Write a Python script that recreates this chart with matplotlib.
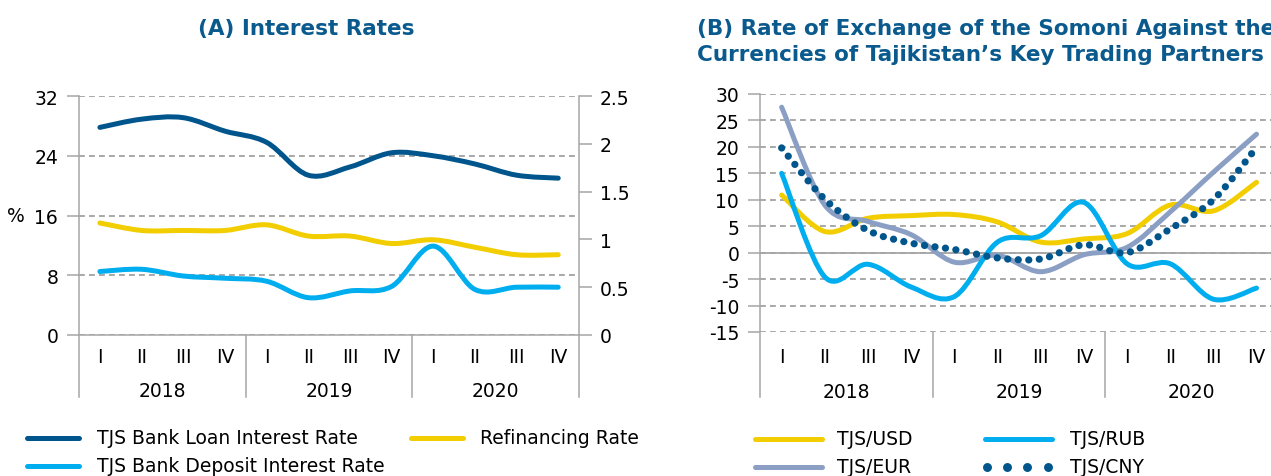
import numpy as np
import matplotlib
matplotlib.use("Agg")
import matplotlib.pyplot as plt
from matplotlib.path import Path
from matplotlib.patches import PathPatch
from matplotlib.lines import Line2D
from matplotlib.transforms import blended_transform_factory

# quarterly data, 2018 Q1 .. 2020 Q4
quarters = ["I", "II", "III", "IV"] * 3
years = ["2018", "2019", "2020"]

loan_rate = [27.8, 28.9, 29.1, 27.3, 25.8, 21.4, 22.5, 24.4, 24.0, 22.9, 21.4, 21.0]
refinancing_rate = [15.0, 14.0, 14.0, 14.0, 14.75, 13.25, 13.25, 12.25, 12.75, 11.75, 10.75, 10.75]
deposit_rate = [8.5, 8.8, 7.9, 7.6, 7.2, 5.0, 5.9, 6.5, 11.9, 6.1, 6.4, 6.4]

tjs_usd = [10.9, 4.0, 6.5, 7.0, 7.2, 5.8, 2.0, 2.6, 3.6, 9.0, 7.9, 13.3]
tjs_rub = [15.0, -4.6, -2.2, -6.5, -8.3, 2.0, 3.2, 9.5, -2.1, -2.1, -8.8, -6.7]
tjs_eur = [27.5, 9.0, 5.9, 3.4, -1.8, -0.5, -3.6, -0.4, 1.0, 7.7, 15.2, 22.4]
tjs_cny = [19.8, 10.1, 4.2, 1.8, 0.6, -1.0, -1.2, 1.5, 0.0, 4.5, 10.0, 19.9]

DARK_BLUE = "#00558c"
LIGHT_BLUE = "#00aeef"
YELLOW = "#f2cd00"
GREY_BLUE = "#8a9fc3"
TITLE_BLUE = "#0b5a8e"
AXIS_GREY = "#a6a6a6"
GRID_GREY = "#999999"

plt.rcParams["font.family"] = ["DejaVu Sans"]
plt.rcParams["font.size"] = 13.5
plt.rcParams["axes.unicode_minus"] = False

W, H = 1271, 477
fig = plt.figure(figsize=(W / 100, H / 100), dpi=100)


def px(x, y):
    """pixel position -> figure fraction"""
    return x / W, 1 - y / H


def smooth_path(ys):
    # smoothed line through the points (bezier segments, like office charts)
    pts = np.column_stack([np.arange(len(ys)), ys]).astype(float)
    n = len(pts)
    verts = [pts[0]]
    codes = [Path.MOVETO]
    for i in range(n - 1):
        p0 = pts[max(i - 1, 0)]
        p1 = pts[i]
        p2 = pts[i + 1]
        p3 = pts[min(i + 2, n - 1)]
        verts += [p1 + (p2 - p0) / 6, p2 - (p3 - p1) / 6, p2]
        codes += [Path.CURVE4] * 3
    return Path(verts, codes)


def draw_series(ax, ys, color, dotted=False):
    if dotted:
        patch = PathPatch(smooth_path(ys), fill=False, edgecolor=color, lw=5.2,
                          linestyle=(0, (0.01, 1.45)), capstyle="round", zorder=3)
    else:
        patch = PathPatch(smooth_path(ys), fill=False, edgecolor=color, lw=3.6,
                          capstyle="round", joinstyle="round", zorder=3)
    ax.add_patch(patch)


def category_axis(ax, drop, q_pos, y_pos):
    trans = blended_transform_factory(ax.transData, ax.transAxes)
    for i, q in enumerate(quarters):
        ax.text(i, q_pos, q, transform=trans, ha="center", va="center")
    for k, yr in enumerate(years):
        ax.text(4 * k + 1.5, y_pos, yr, transform=trans, ha="center", va="center")
    for xs in (3.5, 7.5):
        ax.plot([xs, xs], [0, drop], transform=trans, color=AXIS_GREY, lw=1.1,
                clip_on=False)
    ax.plot([-0.5, -0.5], [1, drop], transform=trans, color=AXIS_GREY, lw=1.1,
            clip_on=False)


def style_axes(ax):
    ax.set_xlim(-0.5, 11.5)
    ax.set_xticks([])
    for side in ("top", "left", "right"):
        ax.spines[side].set_visible(False)
    ax.tick_params(axis="y", direction="out", length=9, width=1.1,
                   color=AXIS_GREY, pad=6)
    ax.grid(axis="y", color=GRID_GREY, lw=1.2, linestyle=(0, (3.5, 2.5)))
    ax.set_axisbelow(True)


# ---- (A) Interest Rates ----
ax1 = fig.add_axes([0.0622, 0.2956, 0.3934, 0.5010])
style_axes(ax1)
ax1.set_ylim(0, 32)
ax1.set_yticks(np.arange(0, 33, 8))
ax1.spines["bottom"].set_color(AXIS_GREY)
ax1.spines["bottom"].set_linewidth(1.1)
category_axis(ax1, -0.259, -0.088, -0.232)
trans1 = blended_transform_factory(ax1.transData, ax1.transAxes)
ax1.plot([11.5, 11.5], [1, -0.259], transform=trans1, color=AXIS_GREY, lw=1.1,
         clip_on=False)

ax1r = ax1.twinx()
ax1r.set_ylim(0, 2.5)
ax1r.set_yticks(np.arange(0, 2.51, 0.5))
ax1r.set_yticklabels([f"{v:g}" for v in np.arange(0, 2.51, 0.5)])
for side in ("top", "left", "right", "bottom"):
    ax1r.spines[side].set_visible(False)
ax1r.tick_params(axis="y", direction="out", length=9, width=1.1,
                 color=AXIS_GREY, pad=6)

draw_series(ax1, loan_rate, DARK_BLUE)
draw_series(ax1, refinancing_rate, YELLOW)
draw_series(ax1, deposit_rate, LIGHT_BLUE)

title_font = dict(family="DejaVu Sans", fontweight="bold", size=15.5,
                  color=TITLE_BLUE, va="center")
fig.text(*px(16, 217), "%", ha="center", va="center")
fig.text(*px(306, 29), "(A) Interest Rates", ha="center", **title_font)

# ---- (B) Exchange rates ----
ax2 = fig.add_axes([0.598, 0.3019, 0.4076, 0.4990])
style_axes(ax2)
ax2.spines["bottom"].set_visible(False)
ax2.set_ylim(-15, 30)
ax2.set_yticks(np.arange(-15, 31, 5))
ax2.axhline(0, color=AXIS_GREY, lw=1.3, zorder=1.5)
category_axis(ax2, -0.273, -0.101, -0.248)

draw_series(ax2, tjs_usd, YELLOW)
draw_series(ax2, tjs_eur, GREY_BLUE)
draw_series(ax2, tjs_rub, LIGHT_BLUE)
draw_series(ax2, tjs_cny, DARK_BLUE, dotted=True)

fig.text(*px(697, 29), "(B) Rate of Exchange of the Somoni Against the",
         ha="left", **title_font)
fig.text(*px(697, 55), "Currencies of Tajikistan\u2019s Key Trading Partners",
         ha="left", **title_font)

# ---- legends ----
legend_items = [
    ("TJS Bank Loan Interest Rate", DARK_BLUE, 24, 82, 97, 439),
    ("TJS Bank Deposit Interest Rate", LIGHT_BLUE, 24, 82, 97, 467),
    ("Refinancing Rate", YELLOW, 408, 466, 480, 439),
    ("TJS/USD", YELLOW, 752, 825, 837, 440),
    ("TJS/EUR", GREY_BLUE, 752, 825, 837, 468),
    ("TJS/RUB", LIGHT_BLUE, 982, 1055, 1070, 440),
]
for label, color, x0, x1, tx, y in legend_items:
    (fx0, fy), (fx1, _) = px(x0 + 3, y), px(x1 - 3, y)
    fig.add_artist(Line2D([fx0, fx1], [fy, fy], color=color, lw=3.6,
                          solid_capstyle="round"))
    fig.text(*px(tx, y), label, ha="left", va="center")

dot_x = [987, 1007, 1027, 1048]
fig.add_artist(Line2D([x / W for x in dot_x], [1 - 468 / H] * 4, linestyle="none",
                      marker="o", ms=5.4, color=DARK_BLUE))
fig.text(*px(1070, 468), "TJS/CNY", ha="left", va="center")

fig.savefig("out.png", dpi=100)
